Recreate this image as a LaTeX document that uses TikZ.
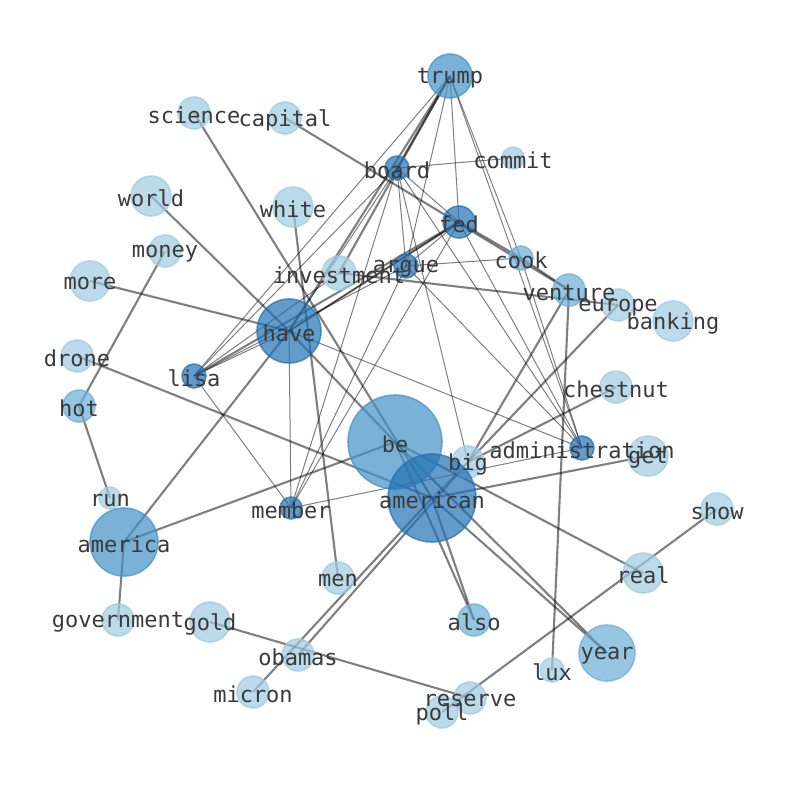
\documentclass[tikz,border=0pt]{standalone}
\usepackage{fontspec}
\newfontfamily\labfont{DejaVu Sans Mono}
\pgfdeclarelayer{background}
\pgfsetlayers{background,main}
\definecolor{cA}{HTML}{9ECAE1}
\definecolor{cB}{HTML}{6BAED6}
\definecolor{cC}{HTML}{4292C6}
\definecolor{cD}{HTML}{2171B5}
\definecolor{labcol}{HTML}{3A3A3A}
\tikzset{
  vtx/.style 2 args={circle, inner sep=0pt, minimum size=#1, fill=#2, draw=#2, fill opacity=0.7, draw opacity=0.7, line width=1.6pt},
  lab/.style={font=\labfont\fontsize{22}{22}\selectfont, text=labcol, inner sep=0pt},
  thk/.style={draw=black, draw opacity=0.5, line width=2.1pt},
  thn/.style={draw=black, draw opacity=0.5, line width=1.0pt}
}
\begin{document}
\begin{tikzpicture}[x=1pt,y=-1pt]
\useasboundingbox (0,0) rectangle (794,790);
% nodes
\node[vtx={44pt}{cC}] (trump) at (450,76) {};
\node[vtx={32pt}{cA}] (science) at (194,113) {};
\node[vtx={32pt}{cA}] (capital) at (285,118) {};
\node[vtx={24pt}{cD}] (board) at (397,168) {};
\node[vtx={22pt}{cA}] (commit) at (513,158) {};
\node[vtx={40pt}{cA}] (world) at (151,196) {};
\node[vtx={40pt}{cA}] (white) at (293,207) {};
\node[vtx={32pt}{cD}] (fed) at (459,222) {};
\node[vtx={32pt}{cA}] (money) at (165,251) {};
\node[vtx={24pt}{cB}] (cook) at (521,258) {};
\node[vtx={34pt}{cA}] (investment) at (339,273) {};
\node[vtx={24pt}{cD}] (argue) at (406,266) {};
\node[vtx={40pt}{cA}] (more) at (90,281) {};
\node[vtx={32pt}{cB}] (venture) at (569,290) {};
\node[vtx={32pt}{cA}] (europe) at (618,305) {};
\node[vtx={40pt}{cA}] (banking) at (673,321) {};
\node[vtx={64pt}{cD}] (have) at (289,331) {};
\node[vtx={32pt}{cA}] (drone) at (77,356) {};
\node[vtx={24pt}{cD}] (lisa) at (194,376) {};
\node[vtx={32pt}{cA}] (chestnut) at (616,387) {};
\node[vtx={32pt}{cB}] (hot) at (79,406) {};
\node[vtx={94pt}{cC}] (be) at (395,442) {};
\node[vtx={24pt}{cD}] (administration) at (582,448) {};
\node[vtx={32pt}{cA}] (big) at (468,462) {};
\node[vtx={40pt}{cA}] (get) at (648,456) {};
\node[vtx={88pt}{cD}] (american) at (432,498) {};
\node[vtx={22pt}{cA}] (run) at (110,498) {};
\node[vtx={22pt}{cD}] (member) at (291,508) {};
\node[vtx={32pt}{cA}] (show) at (717,509) {};
\node[vtx={68pt}{cC}] (america) at (124,542) {};
\node[vtx={40pt}{cA}] (real) at (643,573) {};
\node[vtx={32pt}{cA}] (men) at (338,578) {};
\node[vtx={32pt}{cA}] (government) at (118,620) {};
\node[vtx={40pt}{cA}] (gold) at (210,622) {};
\node[vtx={32pt}{cB}] (also) at (474,620) {};
\node[vtx={56pt}{cB}] (year) at (607,653) {};
\node[vtx={32pt}{cA}] (obamas) at (298,655) {};
\node[vtx={24pt}{cA}] (lux) at (552,670) {};
\node[vtx={32pt}{cA}] (micron) at (253,692) {};
\node[vtx={32pt}{cA}] (reserve) at (470,698) {};
\node[vtx={32pt}{cA}] (poll) at (442,712) {};
% edges
\begin{pgfonlayer}{background}
\foreach \a/\b in {capital/venture, science/american, world/have, have/be, be/year, american/year,
  more/have, money/hot, hot/run, america/government, drone/american, america/have, america/be,
  white/men, gold/reserve, micron/american, obamas/big, poll/show, lux/venture, also/be, also/american,
  big/venture, big/europe, big/chestnut, american/get, be/real, trump/have, trump/investment,
  trump/board, fed/cook, cook/venture, investment/europe, have/fed, lisa/fed}
  \draw[thk] (\a.center) -- (\b.center);
\foreach \a/\b in {trump/fed, trump/argue, trump/cook, trump/administration, trump/lisa,
  board/commit, board/argue, board/fed, board/administration, board/member, board/lisa, board/have, board/big,
  argue/cook, argue/fed, argue/lisa, argue/member, argue/administration,
  fed/member, fed/administration, fed/have,
  lisa/member, lisa/investment, lisa/have, have/administration, have/member,
  member/administration, cook/administration, big/american}
  \draw[thn] (\a.center) -- (\b.center);
\end{pgfonlayer}
% labels
\foreach \n in {trump, science, capital, board, commit, world, white, fed, money, cook, investment,
  argue, more, venture, europe, banking, have, drone, lisa, chestnut, hot, be, administration, big,
  get, american, run, member, show, america, real, men, government, gold, also, year, obamas, lux,
  micron, reserve, poll}
  \node[lab] (l\n) at ([yshift=-2.5pt]\n.center) {\n};
\end{tikzpicture}
\end{document}
